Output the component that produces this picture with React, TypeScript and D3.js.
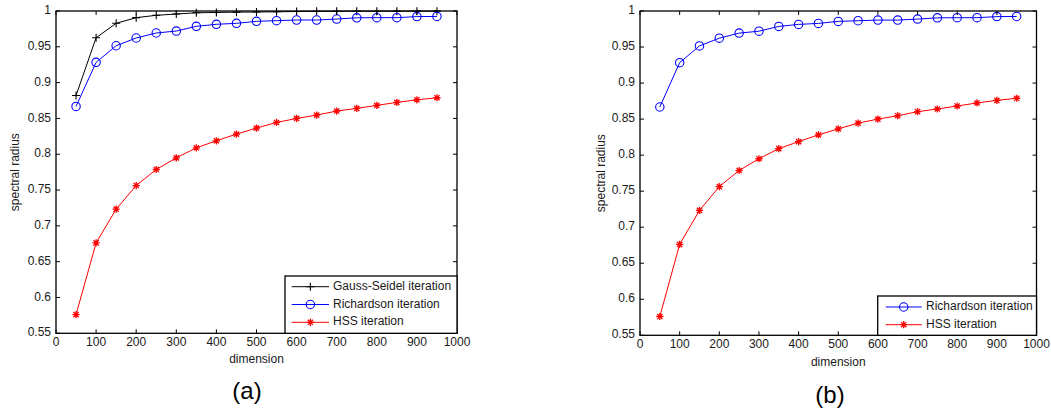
import React from "react";
import * as d3 from "d3";

const dims = [50, 100, 150, 200, 250, 300, 350, 400, 450, 500, 550, 600, 650, 700, 750, 800, 850, 900, 950];
const gaussSeidel = [0.882, 0.9627, 0.9828, 0.9907, 0.994, 0.9958, 0.9975, 0.998, 0.9984, 0.9986, 0.9989, 0.9993, 0.9995, 0.9996, 0.9997, 0.9997, 0.9998, 0.9998, 0.9998];
const richardson = [0.8668, 0.9283, 0.9515, 0.9623, 0.9693, 0.972, 0.9786, 0.9814, 0.9828, 0.9856, 0.9865, 0.9874, 0.9874, 0.9888, 0.9905, 0.9907, 0.9907, 0.9922, 0.9924];
const hss = [0.5761, 0.6762, 0.7233, 0.7563, 0.7787, 0.795, 0.809, 0.8188, 0.8281, 0.8365, 0.8444, 0.85, 0.8547, 0.8603, 0.864, 0.8682, 0.8724, 0.876, 0.8789];
const xTicks = [0, 100, 200, 300, 400, 500, 600, 700, 800, 900, 1000];
const yTicks = [0.55, 0.6, 0.65, 0.7, 0.75, 0.8, 0.85, 0.9, 0.95, 1];
const yTickLabels = ["0.55", "0.6", "0.65", "0.7", "0.75", "0.8", "0.85", "0.9", "0.95", "1"];

const FONT = "Arial, 'Liberation Sans', sans-serif";
const TXT = "#1a1a1a";

type Series = { name: string; values: number[]; color: string; marker: "plus" | "circle" | "star" };

const allSeries: Series[] = [
  { name: "Gauss-Seidel iteration", values: gaussSeidel, color: "#000000", marker: "plus" },
  { name: "Richardson iteration", values: richardson, color: "#0000ff", marker: "circle" },
  { name: "HSS iteration", values: hss, color: "#ff0000", marker: "star" },
];

function Marker({ kind, x, y, color }: { kind: string; x: number; y: number; color: string }) {
  if (kind === "plus") {
    const s = 4;
    return (
      <path d={`M${x - s},${y}H${x + s}M${x},${y - s}V${y + s}`} stroke={color} strokeWidth={1.1} fill="none" />
    );
  }
  if (kind === "circle") {
    return <circle cx={x} cy={y} r={4.2} stroke={color} strokeWidth={1.1} fill="none" />;
  }
  const s = 3.6;
  const d = 2.6;
  return (
    <path
      d={`M${x - s},${y}H${x + s}M${x},${y - s}V${y + s}M${x - d},${y - d}L${x + d},${y + d}M${x - d},${y + d}L${x + d},${y - d}`}
      stroke={color}
      strokeWidth={1.3}
      fill="none"
    />
  );
}

function Panel({
  left, right, top, bottom, series, legend, label, labelX, ylabX, dimY, labelY,
}: {
  left: number; right: number; top: number; bottom: number; series: Series[];
  legend: { x0: number; x1: number; y0: number; rows: number[]; lx0: number; lx1: number; tx: number };
  label: string; labelX: number; ylabX: number; dimY: number; labelY: number;
}) {
  const x = d3.scaleLinear().domain([0, 1000]).range([left, right]);
  const y = d3.scaleLinear().domain([0.55, 1]).range([bottom, top]);
  const line = d3.line<number>().x((_, i) => x(dims[i])).y((v) => y(v));
  const tl = 4;
  return (
    <g>
      {series.map((s) => (
        <g key={s.name}>
          <path d={line(s.values) || ""} stroke={s.color} strokeWidth={1} fill="none" />
          {s.values.map((v, i) => (
            <Marker key={i} kind={s.marker} x={x(dims[i])} y={y(v)} color={s.color} />
          ))}
        </g>
      ))}
      <rect x={left} y={top} width={right - left} height={bottom - top} fill="none" stroke="#000" strokeWidth={1.3} />
      {xTicks.map((t) => (
        <g key={"x" + t}>
          <line x1={x(t)} x2={x(t)} y1={bottom} y2={bottom - tl} stroke="#000" />
          <line x1={x(t)} x2={x(t)} y1={top} y2={top + tl} stroke="#000" />
          <text x={x(t)} y={bottom + 10} textAnchor="middle" dominantBaseline="middle" fontSize={12} fontFamily={FONT} fill={TXT}>
            {t}
          </text>
        </g>
      ))}
      {yTicks.map((t, i) => (
        <g key={"y" + t}>
          <line x1={left} x2={left + tl} y1={y(t)} y2={y(t)} stroke="#000" />
          <line x1={right} x2={right - tl} y1={y(t)} y2={y(t)} stroke="#000" />
          <text x={left - 5} y={y(t)} textAnchor="end" dominantBaseline="middle" fontSize={12} fontFamily={FONT} fill={TXT}>
            {yTickLabels[i]}
          </text>
        </g>
      ))}
      <text
        transform={`translate(${ylabX},${(top + bottom) / 2}) rotate(-90)`}
        textAnchor="middle"
        dominantBaseline="middle"
        fontSize={12}
        fontFamily={FONT}
        fill={TXT}
      >
        spectral radius
      </text>
      <text x={(left + right) / 2} y={dimY} textAnchor="middle" dominantBaseline="middle" fontSize={12} fontFamily={FONT} fill={TXT}>
        dimension
      </text>
      <text x={labelX} y={labelY} textAnchor="middle" dominantBaseline="middle" fontSize={24} fontFamily={FONT} fill="#000">
        {label}
      </text>
      <rect x={legend.x0} y={legend.y0} width={legend.x1 - legend.x0} height={bottom - legend.y0} fill="#fff" stroke="#000" strokeWidth={1.3} />
      {series.map((s, i) => (
        <g key={"l" + s.name}>
          <line x1={legend.lx0} x2={legend.lx1} y1={legend.rows[i]} y2={legend.rows[i]} stroke={s.color} strokeWidth={1} />
          <Marker kind={s.marker} x={(legend.lx0 + legend.lx1) / 2} y={legend.rows[i]} color={s.color} />
          <text x={legend.tx} y={legend.rows[i]} dominantBaseline="middle" fontSize={12} fontFamily={FONT} fill={TXT}>
            {s.name}
          </text>
        </g>
      ))}
    </g>
  );
}

export default function App() {
  return (
    <div style={{ position: "absolute", left: 0, top: 0 }}>
      <svg width={1051} height={412} style={{ display: "block", background: "#fff" }}>
        <Panel
          left={56}
          right={457}
          top={11}
          bottom={333.3}
          series={allSeries}
          legend={{ x0: 285, x1: 457, y0: 276, rows: [286.7, 304.5, 322.3], lx0: 291.7, lx1: 329, tx: 333 }}
          label="(a)"
          labelX={247}
          ylabX={16}
          dimY={360}
          labelY={393}
        />
        <Panel
          left={640}
          right={1036.5}
          top={11}
          bottom={335.3}
          series={allSeries.slice(1)}
          legend={{ x0: 877.7, x1: 1036.5, y0: 296, rows: [307, 324.7], lx0: 885.7, lx1: 921.7, tx: 926 }}
          label="(b)"
          labelX={830}
          ylabX={602}
          dimY={363.3}
          labelY={396.7}
        />
      </svg>
    </div>
  );
}
